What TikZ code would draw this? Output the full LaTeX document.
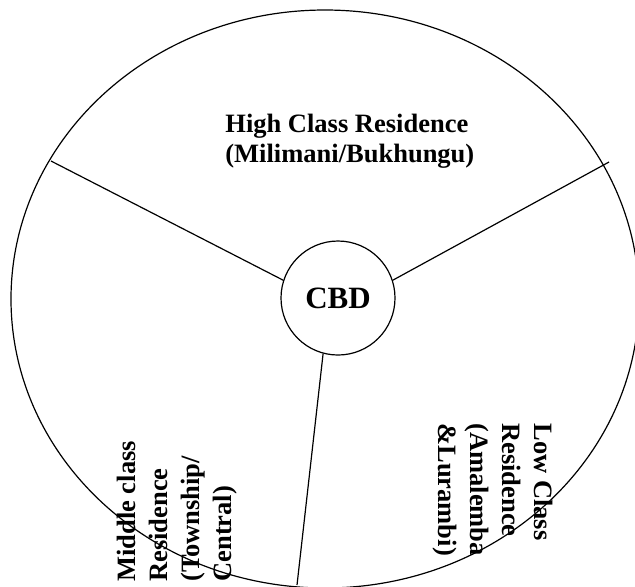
\documentclass[tikz,border=0pt]{standalone}
\usepackage{fontspec}
\setmainfont{Liberation Serif}
\usetikzlibrary{calc}

\tikzset{
    zone/.style={font=\fontsize{13.25}{15}\selectfont\bfseries, align=left, inner sep=0pt},
    vzone/.style={zone, font=\fontsize{13.25}{16}\selectfont\bfseries},
    spoke/.style={line width=0.6pt},
}

\begin{document}
\begin{tikzpicture}[x=0.5pt, y=-0.5pt]

    \def\Cx{325}
    \def\Cy{299}
    \def\Rx{314}
    \def\Ry{289}

    \useasboundingbox (0,0) rectangle (635,586);

    % Town
    \draw[line width=0.6pt] (\Cx,\Cy) ellipse [x radius=\Rx, y radius=\Ry];

    \coordinate (edge-1) at (51,161);
    \coordinate (edge-2) at (609,162);
    \coordinate (edge-3) at (297,585);

    % CBD
    \node[draw, circle, line width=0.6pt, minimum size=57pt, inner sep=0pt,
          font=\fontsize{15.5}{18}\selectfont\bfseries] (cbd) at (338,298) {CBD};

    % Spokes
    \draw[spoke] (cbd.162) -- (edge-1);
    \draw[spoke] (cbd.18) -- (edge-2);
    \draw[spoke] (cbd.-105) -- (edge-3);

    % Zones
    \node[zone, anchor=north west] (high) at (225,114)
        {High Class Residence\\(Milimani/Bukhungu)};
    \node[vzone, rotate=90, anchor=north west] (middle) at (117,582)
        {Middle class\\Residence\\(Township/\\Central)};
    \node[vzone, rotate=-90, anchor=north west] (low) at (553,423)
        {Low Class\\Residence\\(Amalemba\\\&Lurambi)};

\end{tikzpicture}
\end{document}
